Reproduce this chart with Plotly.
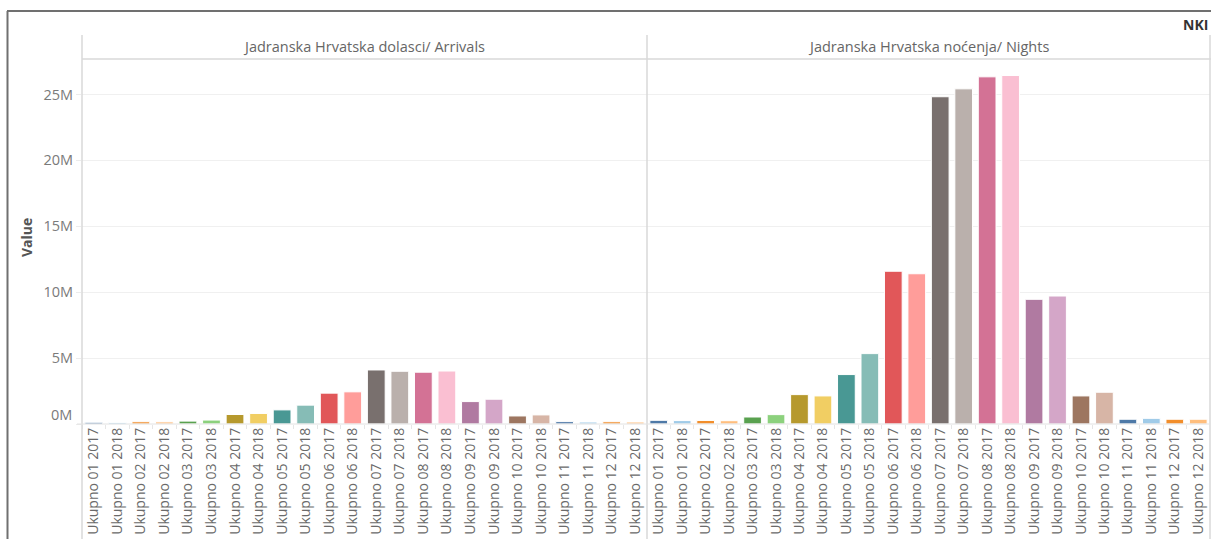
import plotly.graph_objects as go

# ---------------- data ----------------
categories = [
    "Ukupno 01 2017", "Ukupno 01 2018", "Ukupno 02 2017", "Ukupno 02 2018",
    "Ukupno 03 2017", "Ukupno 03 2018", "Ukupno 04 2017", "Ukupno 04 2018",
    "Ukupno 05 2017", "Ukupno 05 2018", "Ukupno 06 2017", "Ukupno 06 2018",
    "Ukupno 07 2017", "Ukupno 07 2018", "Ukupno 08 2017", "Ukupno 08 2018",
    "Ukupno 09 2017", "Ukupno 09 2018", "Ukupno 10 2017", "Ukupno 10 2018",
    "Ukupno 11 2017", "Ukupno 11 2018", "Ukupno 12 2017", "Ukupno 12 2018",
]
arrivals = [
    0.13e6, 0.12e6, 0.17e6, 0.16e6, 0.22e6, 0.30e6, 0.72e6, 0.80e6,
    1.07e6, 1.43e6, 2.34e6, 2.44e6, 4.10e6, 4.00e6, 3.93e6, 4.02e6,
    1.70e6, 1.88e6, 0.61e6, 0.69e6, 0.18e6, 0.15e6, 0.17e6, 0.15e6,
]
nights = [
    0.28e6, 0.26e6, 0.27e6, 0.25e6, 0.53e6, 0.71e6, 2.23e6, 2.13e6,
    3.75e6, 5.34e6, 11.59e6, 11.40e6, 24.83e6, 25.43e6, 26.34e6, 26.44e6,
    9.46e6, 9.71e6, 2.13e6, 2.41e6, 0.36e6, 0.43e6, 0.36e6, 0.36e6,
]
panel_titles = ["Jadranska Hrvatska dolasci/ Arrivals", "Jadranska Hrvatska noćenja/ Nights"]
y_tickvals = [0, 5e6, 10e6, 15e6, 20e6, 25e6]
y_ticktext = ["0M", "5M", "10M", "15M", "20M", "25M"]
y_title = "Value"
corner_text = "NKI"
palette = [
    "#4E79A7", "#A0CBE8", "#F28E2B", "#FFBE7D", "#59A14F", "#8CD17D",
    "#B6992D", "#F1CE63", "#499894", "#86BCB6", "#E15759", "#FF9D9A",
    "#79706E", "#BAB0AC", "#D37295", "#FABFD2", "#B07AA1", "#D4A6C8",
    "#9D7660", "#D7B5A6",
]
bar_colors = [palette[i % len(palette)] for i in range(len(categories))]

# ---------------- layout helpers (screen pixels -> paper) ----------------
W, H = 1211, 539
def px(x):
    return x / W
def py(y):
    return 1 - y / H

FONT = "'Open Sans', Lato, sans-serif"
x_left, x_mid, x_right = 82, 647, 1210
y_zero, y_head = 424, 59
y_top_val = (y_zero - y_head) / 13.18 * 1e6

fig = go.Figure()
fig.add_trace(go.Bar(x=categories, y=arrivals, marker=dict(color=bar_colors, line=dict(color="white", width=1)),
                     xaxis="x", yaxis="y", showlegend=False, hoverinfo="x+y"))
fig.add_trace(go.Bar(x=categories, y=nights, marker=dict(color=bar_colors, line=dict(color="white", width=1)),
                     xaxis="x2", yaxis="y2", showlegend=False, hoverinfo="x+y"))

xcommon = dict(
    type="category", tickangle=-90, showgrid=False, tickson="boundaries",
    ticks="outside", ticklen=4, tickcolor="#e6e6e6", showline=False, zeroline=False,
    tickfont=dict(family=FONT, size=14, color="#6a6a6a"), fixedrange=True, automargin=False,
)
ycommon = dict(
    range=[0, y_top_val], showgrid=True, gridcolor="#f0f0f0", gridwidth=1,
    zeroline=False, showline=False, tickvals=y_tickvals, fixedrange=True, automargin=False,
)

fig.update_layout(
    width=W, height=H, margin=dict(l=0, r=0, t=0, b=0, autoexpand=False),
    paper_bgcolor="white", plot_bgcolor="white", bargap=0.245,
    xaxis=dict(domain=[px(x_left), px(x_mid)], anchor="y", **xcommon),
    xaxis2=dict(domain=[px(x_mid), px(x_right)], anchor="y2", **xcommon),
    yaxis=dict(domain=[py(y_zero), py(y_head)], anchor="x", ticktext=[""] + y_ticktext[1:],
               ticks="outside", ticklen=5, tickcolor="#ececec",
               tickfont=dict(family=FONT, size=14.5, color="#7a7a7a"), **ycommon),
    yaxis2=dict(domain=[py(y_zero), py(y_head)], anchor="x2", showticklabels=False, **ycommon),
    font=dict(family=FONT),
)

shapes = []
line_gray = dict(color="#d9d9d9", width=1.5)
for xv in (x_left, x_mid, x_right):
    shapes.append(dict(type="line", xref="paper", yref="paper", x0=px(xv), x1=px(xv), y0=py(35), y1=0, line=line_gray))
shapes.append(dict(type="line", xref="paper", yref="paper", x0=px(x_left), x1=1, y0=py(y_head), y1=py(y_head), line=line_gray))
shapes.append(dict(type="line", xref="paper", yref="paper", x0=px(77), x1=px(x_right), y0=py(y_zero), y1=py(y_zero),
                   line=dict(color="#e2e2e2", width=1)))
frame = dict(color="#707070", width=2)
shapes.append(dict(type="line", xref="paper", yref="paper", x0=px(7), x1=1, y0=py(11), y1=py(11), line=frame))
shapes.append(dict(type="line", xref="paper", yref="paper", x0=px(7.5), x1=px(7.5), y0=py(11), y1=0, line=frame))
fig.update_layout(shapes=shapes)

annotations = [
    dict(text=panel_titles[0], xref="paper", yref="paper", x=px((x_left + x_mid) / 2), y=py(47),
         xanchor="center", yanchor="middle", showarrow=False, font=dict(family=FONT, size=14.5, color="#666666")),
    dict(text=panel_titles[1], xref="paper", yref="paper", x=px((x_mid + x_right) / 2), y=py(47),
         xanchor="center", yanchor="middle", showarrow=False, font=dict(family=FONT, size=14.5, color="#666666")),
    dict(text="<b>" + y_title + "</b>", xref="paper", yref="paper", x=px(27), y=py(238), textangle=-90,
         xanchor="center", yanchor="middle", showarrow=False, font=dict(family=FONT, size=14, color="#555555")),
    dict(text="<b>" + corner_text + "</b>", xref="paper", yref="paper", x=px(1210), y=py(24),
         xanchor="right", yanchor="middle", showarrow=False, font=dict(family=FONT, size=14, color="#333333")),
    dict(text=y_ticktext[0], xref="paper", yref="paper", x=px(74), y=py(414),
         xanchor="right", yanchor="middle", showarrow=False, font=dict(family=FONT, size=14.5, color="#7a7a7a")),
]
fig.update_layout(annotations=annotations)

fig.write_html("out.html", config={"displayModeBar": False},
               post_script="document.body.style.margin='0';document.body.style.overflow='hidden';")
